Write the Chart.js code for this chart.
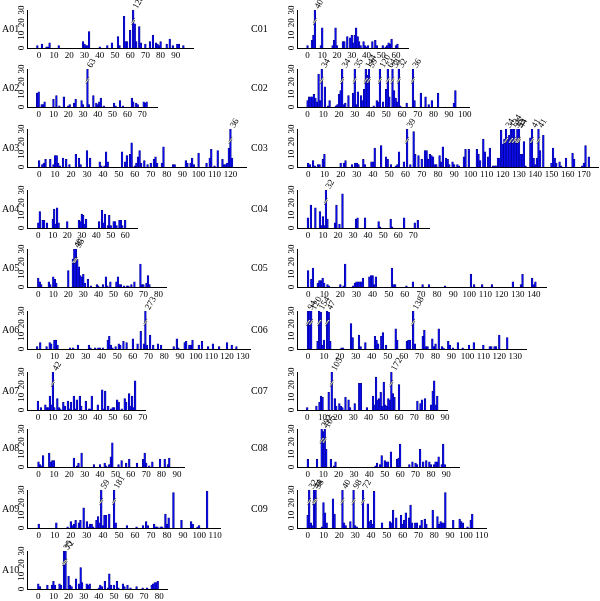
<!DOCTYPE html>
<html>
<head>
<meta charset="utf-8">
<script src="https://cdn.jsdelivr.net/npm/chart.js@4.4.0/dist/chart.umd.min.js"></script>
<style>
  body { margin: 0; background: #fff; width: 600px; height: 601px; position: relative; overflow: hidden; }
  canvas { position: absolute; }
</style>
</head>
<body>
<script>
// bars per panel as [position, count]; counts above 30 are cut and labelled
var A01 = [[-1,2],[2,3],[5,1],[6,1],[7,4],[13,2],[29,5],[30,3],[31,2],[32,2],[33,13],[40,1],[45,2],[48,4],[52,9],[53,2],[56,25],[57,5],[58,5],[60,14],[62,128],[63,19],[64,5],[66,17],[67,4],[70,3],[73,5],[75,10],[77,4],[78,3],[79,2],[80,5],[84,3],[86,7],[88,2],[91,3],[92,3],[95,2]];
var A02 = [[-1,11],[0,12],[2,2],[3,2],[4,4],[10,6],[12,9],[14,1],[17,8],[20,1],[21,2],[24,3],[25,6],[29,5],[30,2],[33,63],[34,2],[37,9],[39,3],[40,2],[41,4],[42,7],[44,1],[51,3],[52,1],[55,5],[57,1],[63,7],[64,4],[66,3],[67,2],[71,4],[72,3],[73,4]];
var A03 = [[0,5],[2,2],[3,3],[4,6],[7,6],[9,2],[10,9],[11,9],[12,3],[13,1],[15,7],[17,6],[19,2],[23,10],[25,7],[26,2],[30,13],[32,7],[38,4],[39,1],[41,1],[42,12],[43,4],[52,12],[54,4],[55,9],[57,10],[58,19],[60,1],[61,3],[62,8],[63,13],[64,3],[66,5],[68,2],[70,3],[72,6],[73,8],[74,3],[77,3],[78,16],[84,2],[85,2],[92,5],[93,3],[95,3],[96,7],[97,2],[100,11],[105,3],[107,7],[108,14],[110,1],[112,13],[115,6],[116,2],[117,2],[118,3],[119,15],[120,36],[121,7]];
var A04 = [[0,4],[1,13],[3,6],[4,6],[6,4],[10,7],[11,15],[12,3],[13,16],[14,4],[20,5],[28,6],[29,5],[30,11],[31,10],[32,3],[33,7],[42,5],[44,14],[45,4],[46,11],[48,2],[49,10],[50,2],[52,5],[53,5],[54,2],[56,6],[57,6],[58,2],[60,6]];
var A05 = [[0,7],[1,4],[2,2],[7,4],[8,2],[10,8],[11,6],[12,3],[20,13],[23,22],[24,40],[25,35],[26,22],[27,16],[28,9],[29,8],[30,10],[31,3],[33,6],[35,1],[39,2],[40,1],[43,2],[45,8],[46,1],[48,4],[52,4],[53,8],[54,2],[55,2],[57,1],[59,1],[60,1],[62,2],[64,4],[68,18],[69,2],[70,2],[72,3],[73,9],[74,2]];
var A06 = [[-1,2],[1,5],[5,2],[7,5],[8,4],[10,7],[11,7],[12,3],[20,1],[22,1],[25,3],[32,3],[33,1],[36,1],[38,1],[39,1],[41,1],[44,7],[45,10],[46,3],[47,1],[49,2],[51,4],[52,3],[54,6],[56,5],[60,8],[63,4],[65,14],[67,4],[68,273],[69,3],[71,11],[73,3],[76,4],[78,3],[86,2],[88,8],[89,1],[93,5],[94,6],[96,3],[97,3],[98,7],[102,3],[104,6],[108,2],[111,4],[115,2],[120,5],[123,3],[126,2]];
var A07 = [[0,7],[2,2],[5,4],[6,2],[7,2],[8,11],[9,4],[10,42],[11,2],[13,9],[14,2],[15,1],[17,6],[18,3],[20,7],[21,1],[22,6],[24,11],[25,1],[26,8],[28,11],[29,3],[32,7],[34,1],[35,1],[36,11],[40,4],[43,16],[44,1],[45,15],[47,3],[49,1],[50,2],[51,2],[53,8],[54,6],[56,1],[58,9],[59,6],[61,13],[62,3],[63,11],[64,2],[65,23]];
var A08 = [[0,4],[1,2],[2,1],[3,9],[7,11],[8,4],[9,5],[10,5],[23,7],[25,1],[26,3],[28,11],[36,2],[40,2],[43,3],[44,1],[46,2],[47,8],[48,19],[52,2],[54,5],[57,3],[59,6],[64,3],[68,6],[69,11],[70,3],[72,1],[74,4],[79,6],[82,6],[84,2],[85,7]];
var A09 = [[0,3],[11,4],[18,1],[20,5],[21,2],[22,3],[23,6],[25,4],[26,6],[28,16],[30,5],[31,1],[32,3],[33,3],[34,1],[36,6],[37,9],[38,4],[39,59],[40,2],[41,10],[42,10],[44,11],[47,181],[48,4],[55,2],[61,1],[65,2],[67,5],[68,2],[72,3],[73,1],[74,1],[76,1],[77,1],[79,11],[80,3],[81,8],[84,28],[89,6],[95,5],[96,3],[99,1],[100,2],[105,29]];
var A10 = [[0,4],[1,2],[6,3],[9,3],[10,6],[11,3],[14,4],[15,3],[17,35],[18,72],[20,10],[21,3],[22,2],[25,8],[27,4],[28,17],[29,5],[32,4],[33,3],[34,4],[40,1],[41,3],[42,2],[44,6],[46,1],[47,12],[48,3],[50,3],[52,6],[53,1],[56,4],[57,2],[59,3],[61,1],[65,2],[69,1],[72,1],[75,3],[76,4],[77,5],[78,5],[79,6]];
var C01 = [[0,2],[3,6],[4,10],[5,40],[9,2],[10,16],[17,2],[18,6],[19,16],[20,2],[24,5],[25,5],[27,9],[29,8],[30,10],[31,4],[32,10],[33,16],[34,9],[35,5],[36,2],[38,5],[39,2],[40,1],[41,2],[44,5],[46,6],[47,2],[51,2],[53,1],[54,2],[55,4],[56,3],[57,7],[60,2],[61,3]];
var C02 = [[0,5],[1,8],[2,8],[3,8],[4,10],[5,7],[6,4],[7,26],[8,5],[9,34],[11,16],[13,1],[14,5],[18,1],[19,2],[20,10],[21,13],[22,34],[23,2],[24,3],[26,9],[29,11],[30,35],[31,2],[32,12],[34,9],[35,5],[36,14],[37,144],[38,25],[39,59],[42,1],[44,5],[45,4],[46,120],[48,4],[50,14],[51,64],[52,8],[54,34],[55,13],[56,7],[57,4],[58,32],[59,1],[63,3],[67,36],[68,5],[72,11],[75,8],[77,2],[79,5],[83,11],[93,3],[94,13]];
var C03 = [[0,3],[1,2],[3,5],[4,1],[6,2],[7,2],[9,6],[10,10],[20,3],[22,3],[23,5],[27,2],[29,3],[30,3],[31,2],[34,6],[35,2],[39,4],[40,4],[41,15],[45,17],[48,8],[49,6],[51,2],[54,1],[55,2],[56,12],[59,4],[61,39],[63,2],[65,28],[66,10],[68,9],[70,6],[72,13],[73,13],[74,6],[75,10],[76,9],[77,8],[78,2],[79,2],[81,9],[82,4],[83,16],[85,7],[86,6],[87,2],[89,4],[90,2],[92,2],[93,1],[96,8],[97,14],[99,14],[104,14],[105,10],[106,5],[108,22],[109,12],[111,8],[112,15],[114,1],[115,1],[116,1],[117,7],[118,7],[119,29],[120,18],[121,22],[122,34],[123,23],[124,25],[125,134],[126,30],[127,35],[128,20],[129,53],[130,44],[131,10],[132,10],[133,20],[134,1],[137,23],[138,41],[139,7],[140,2],[141,7],[142,41],[143,13],[145,25],[150,3],[151,15],[152,7],[153,3],[155,4],[156,1],[159,7],[163,11],[164,6],[169,1],[170,3],[171,17],[173,8]];
var C04 = [[0,8],[2,18],[5,16],[8,13],[9,2],[10,9],[11,2],[12,32],[13,7],[18,4],[19,18],[21,3],[23,27],[32,7],[33,8],[38,8],[47,5],[48,1],[55,7],[56,1],[64,8],[71,4],[73,6]];
var C05 = [[0,13],[2,6],[3,15],[6,3],[7,5],[8,5],[9,7],[10,3],[12,2],[13,1],[20,2],[22,1],[23,18],[28,1],[29,3],[30,4],[31,4],[32,4],[33,4],[34,7],[38,8],[39,9],[40,9],[41,2],[42,8],[52,15],[53,2],[54,2],[61,1],[65,4],[71,2],[75,2],[85,1],[101,10],[103,2],[108,2],[114,2],[127,4],[132,2],[133,10],[139,7],[140,2],[141,4]];
var C06 = [[0,94],[1,30],[2,120],[6,6],[7,154],[8,29],[9,3],[10,7],[12,47],[13,29],[14,6],[21,1],[22,1],[27,20],[28,9],[32,11],[33,2],[36,5],[42,10],[43,7],[44,4],[46,10],[47,13],[49,3],[55,16],[56,7],[62,6],[63,7],[64,7],[66,138],[67,4],[72,10],[73,15],[74,2],[75,2],[78,8],[79,2],[80,4],[82,16],[84,2],[85,1],[88,6],[89,3],[91,1],[94,5],[97,1],[101,3],[104,5],[110,3],[114,2],[115,2],[117,2],[118,2],[120,11],[125,9]];
var C07 = [[0,2],[6,3],[8,6],[9,11],[10,10],[14,14],[16,105],[18,9],[19,3],[21,5],[22,3],[23,2],[25,10],[27,8],[28,2],[31,5],[34,21],[35,21],[39,2],[43,11],[44,4],[45,26],[46,8],[47,9],[48,14],[49,3],[50,22],[51,4],[52,3],[53,9],[54,8],[55,172],[56,13],[57,10],[60,20],[72,7],[74,5],[75,8],[77,9],[81,4],[82,15],[83,23],[84,4],[85,11]];
var C08 = [[0,6],[6,6],[9,292],[10,28],[11,105],[12,14],[15,6],[17,1],[18,4],[44,1],[45,3],[47,2],[48,9],[50,5],[51,4],[52,4],[54,12],[58,6],[59,7],[60,18],[66,2],[68,4],[70,3],[71,2],[73,14],[75,4],[77,5],[79,4],[80,2],[82,2],[83,4],[84,4],[85,8],[87,2],[88,18],[89,2]];
var C09 = [[0,10],[1,32],[2,4],[3,2],[4,44],[5,38],[9,1],[10,20],[11,12],[12,4],[16,23],[17,11],[22,40],[23,4],[24,2],[27,5],[29,98],[30,2],[31,1],[35,72],[38,19],[39,5],[40,6],[41,3],[42,29],[47,4],[52,5],[53,4],[54,14],[56,8],[59,10],[60,3],[61,6],[62,12],[64,8],[65,18],[66,4],[68,4],[69,4],[71,2],[72,6],[74,7],[75,3],[79,14],[82,9],[83,3],[84,5],[85,4],[86,4],[87,28],[92,6],[96,7],[97,5],[98,4],[101,1],[103,6],[104,11]];

var yTicks = [0, 10, 20, 30];
var LIMIT = 30;

// layout of the panels (column, row, x range end, last tick, px per unit)
var panels = [
  { name: 'A01', data: A01, col: 0, row: 0, max: 96, tickMax: 90, scale: 1.69 },
  { name: 'A02', data: A02, col: 0, row: 1, max: 75, tickMax: 70, scale: 1.69 },
  { name: 'A03', data: A03, col: 0, row: 2, max: 125, tickMax: 120, scale: 1.727 },
  { name: 'A04', data: A04, col: 0, row: 3, max: 63, tickMax: 60, scale: 1.69 },
  { name: 'A05', data: A05, col: 0, row: 4, max: 80, tickMax: 80, scale: 1.69 },
  { name: 'A06', data: A06, col: 0, row: 5, max: 130, tickMax: 130, scale: 1.69 },
  { name: 'A07', data: A07, col: 0, row: 6, max: 67, tickMax: 70, scale: 1.71 },
  { name: 'A08', data: A08, col: 0, row: 7, max: 90, tickMax: 90, scale: 1.71 },
  { name: 'A09', data: A09, col: 0, row: 8, max: 108, tickMax: 110, scale: 1.75 },
  { name: 'A10', data: A10, col: 0, row: 9, max: 80, tickMax: 80, scale: 1.70 },
  { name: 'C01', data: C01, col: 1, row: 0, max: 63, tickMax: 60, scale: 1.72 },
  { name: 'C02', data: C02, col: 1, row: 1, max: 98, tickMax: 100, scale: 1.73 },
  { name: 'C03', data: C03, col: 1, row: 2, max: 174, tickMax: 170, scale: 1.717 },
  { name: 'C04', data: C04, col: 1, row: 3, max: 75, tickMax: 70, scale: 1.72 },
  { name: 'C05', data: C05, col: 1, row: 4, max: 143, tickMax: 140, scale: 1.727 },
  { name: 'C06', data: C06, col: 1, row: 5, max: 132, tickMax: 130, scale: 1.717 },
  { name: 'C07', data: C07, col: 1, row: 6, max: 87, tickMax: 90, scale: 1.70 },
  { name: 'C08', data: C08, col: 1, row: 7, max: 93, tickMax: 90, scale: 1.71 },
  { name: 'C09', data: C09, col: 1, row: 8, max: 108, tickMax: 110, scale: 1.727 }
];

var rowZero = [48, 107, 167, 228, 287, 349, 410, 467, 528, 589];
var FONT = '"Liberation Serif", "DejaVu Serif", serif';

// y labels, panel name, break marks and counts of cut bars
var decorPlugin = {
  id: 'decor',
  afterDraw: function(chart) {
    var ctx = chart.ctx;
    var ys = chart.scales.y;
    var area = chart.chartArea;
    var opts = chart.options.plugins.decor;
    ctx.save();
    ctx.fillStyle = '#000';

    ctx.font = '9px ' + FONT;
    ctx.textAlign = 'center';
    ctx.textBaseline = 'alphabetic';
    yTicks.forEach(function(t) {
      ctx.save();
      ctx.translate(area.left - 3, ys.getPixelForValue(t));
      ctx.rotate(-Math.PI / 2);
      ctx.fillText(String(t), 0, 0);
      ctx.restore();
    });

    ctx.font = '10px ' + FONT;
    ctx.textAlign = 'left';
    ctx.textBaseline = 'middle';
    ctx.fillText(opts.name, opts.labelX, (area.top + area.bottom) / 2);

    var meta = chart.getDatasetMeta(0);
    var points = chart.data.datasets[0].data;
    var yb = ys.getPixelForValue(21);
    meta.data.forEach(function(bar, i) {
      var v = points[i].v;
      if (v <= LIMIT) return;
      var hw = bar.width / 2 + 0.8;
      ctx.lineCap = 'butt';
      ctx.strokeStyle = '#fff';
      ctx.lineWidth = 1.6;
      ctx.beginPath();
      ctx.moveTo(bar.x - hw, yb + 2.4);
      ctx.lineTo(bar.x + hw, yb - 2.4);
      ctx.stroke();
      ctx.strokeStyle = '#000';
      ctx.lineWidth = 0.6;
      ctx.beginPath();
      ctx.moveTo(bar.x - hw, yb + 3.5);
      ctx.lineTo(bar.x + hw, yb - 1.3);
      ctx.moveTo(bar.x - hw, yb + 1.3);
      ctx.lineTo(bar.x + hw, yb - 3.5);
      ctx.stroke();

      ctx.save();
      ctx.translate(bar.x + 1.5, bar.y - 1);
      ctx.rotate(-Math.PI / 3);
      ctx.font = '9px ' + FONT;
      ctx.textAlign = 'left';
      ctx.textBaseline = 'middle';
      ctx.fillText(String(v), 1, 0);
      ctx.restore();
    });
    ctx.restore();
  }
};

panels.forEach(function(p) {
  var colLeft = p.col === 0 ? 0 : 245;
  var axisX = p.col === 0 ? 27 : 297;
  var zeroX = p.col === 0 ? 31 : 300;
  var labelX = p.col === 0 ? 2 : 6;
  var min = -(zeroX - axisX) / p.scale;
  var yW = axisX - colLeft;
  var plotW = (p.max - min) * p.scale;
  var padRight = 20;
  var width = Math.round(yW + plotW + padRight);

  var canvas = document.createElement('canvas');
  canvas.width = width;
  canvas.height = 76;
  canvas.style.width = width + 'px';
  canvas.style.height = '76px';
  canvas.style.left = colLeft + 'px';
  canvas.style.top = (rowZero[p.row] - 60) + 'px';
  document.body.appendChild(canvas);

  var points = p.data.map(function(d) {
    return { x: d[0], y: Math.min(d[1], LIMIT), v: d[1] };
  });

  new Chart(canvas, {
    type: 'bar',
    data: {
      datasets: [{
        data: points,
        backgroundColor: '#0c0cf0',
        borderColor: '#000078',
        borderWidth: 0.5,
        barThickness: p.scale
      }]
    },
    options: {
      responsive: false,
      animation: false,
      events: [],
      layout: { padding: { top: 22, right: width - yW - plotW, left: 0, bottom: 0 } },
      plugins: {
        legend: { display: false },
        tooltip: { enabled: false },
        decor: { name: p.name, labelX: labelX }
      },
      scales: {
        x: {
          type: 'linear',
          min: min,
          max: p.max,
          grid: { display: false, drawTicks: false },
          border: { display: true, color: '#000', width: 1 },
          ticks: {
            font: { family: FONT, size: 9 },
            color: '#000',
            padding: 2,
            autoSkip: false,
            maxRotation: 0
          },
          afterBuildTicks: function(s) {
            var t = [];
            for (var v = 0; v <= p.tickMax; v += 10) t.push({ value: v });
            s.ticks = t;
          },
          afterFit: function(s) {
            s.height = 16;
            s.paddingLeft = 0;
            s.paddingRight = 0;
          }
        },
        y: {
          min: 0,
          max: 30,
          grid: { display: false, drawTicks: false },
          border: { display: true, color: '#000', width: 1 },
          ticks: { display: false },
          afterFit: function(s) {
            s.width = yW;
            s.paddingTop = 0;
            s.paddingBottom = 0;
          }
        }
      }
    },
    plugins: [decorPlugin]
  });
});
</script>
</body>
</html>
